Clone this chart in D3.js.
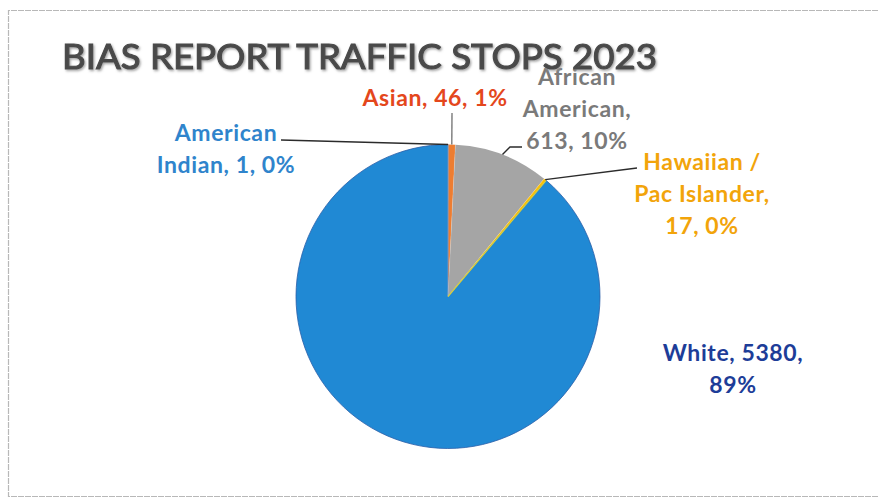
<!DOCTYPE html>
<html>
<head>
<meta charset="utf-8">
<script src="https://cdn.jsdelivr.net/npm/d3@7"></script>
<style>
  html, body { margin: 0; padding: 0; background: #fff; }
  svg { display: block; }
</style>
</head>
<body>
<svg id="chart" width="878" height="500"></svg>
<script>
// ---- data ----
const title = "BIAS REPORT TRAFFIC STOPS 2023";
const categories = ["American Indian", "Asian", "African American", "Hawaiian / Pac Islander", "White"];
const values = [1, 46, 613, 17, 5380];
const percentLabels = ["0%", "1%", "10%", "0%", "89%"];

// ---- styling / layout ----
const sliceColors = ["#5b9bd5", "#ed7d31", "#a5a5a5", "#ffc000", "#2089d4"];
const labelColors = ["#2f84cc", "#e4471c", "#7a7a7a", "#f2a40a", "#1d3d98"];
const labelLines = [
  ["American", "Indian, 1, 0%"],
  ["Asian, 46, 1%"],
  ["African", "American,", "613, 10%"],
  ["Hawaiian /", "Pac Islander,", "17, 0%"],
  ["White, 5380,", "89%"]
];
const labelPos = [[226, 141], [435, 106], [577, 85], [702, 170], [733, 361]];
const leaderEnds = [[[281, 140]], [[452, 113]], [[510, 147], [522, 147]], [[637, 168]], null];

const W = 878, H = 500;
const cx = 448, cy = 296.5, R = 152;
const lineH = 32;

const svg = d3.select("#chart");

// frame (scanned border)
svg.append("path")
  .attr("d", `M ${W} 10.5 H 8.5 V 496.5 H ${W}`)
  .attr("fill", "none")
  .attr("stroke", "#b8b8b8")
  .attr("stroke-width", 1.2)
  .attr("stroke-dasharray", "6 1");

const defs = svg.append("defs");
const f = defs.append("filter").attr("id", "shadow").attr("x", "-5%").attr("y", "-20%").attr("width", "110%").attr("height", "140%");
f.append("feDropShadow").attr("dx", 1.2).attr("dy", 1.5).attr("stdDeviation", 0.8).attr("flood-color", "#9a9a9a").attr("flood-opacity", 0.9);

// pie
const pie = d3.pie().sort(null).value(d => d)(values);
const arc = d3.arc().innerRadius(0).outerRadius(R);
const g = svg.append("g").attr("transform", `translate(${cx},${cy})`);

g.selectAll("path.slice")
  .data(pie)
  .join("path")
  .attr("class", "slice")
  .attr("d", arc)
  .attr("fill", (d, i) => sliceColors[i])
  .attr("stroke", (d, i) => i === 4 ? "#2a5ea8" : "none")
  .attr("stroke-width", 0.8);

g.selectAll("line.sep")
  .data(pie)
  .join("line")
  .attr("class", "sep")
  .attr("x1", 0).attr("y1", 0)
  .attr("x2", d => R * Math.sin(d.startAngle))
  .attr("y2", d => -R * Math.cos(d.startAngle))
  .attr("stroke", (d, i) => i === 4 ? "#d8d040" : "rgba(255,255,255,0.3)")
  .attr("stroke-width", (d, i) => i === 4 ? 1.2 : 0.6);

// leader lines
pie.forEach((d, i) => {
  const ends = leaderEnds[i];
  if (!ends) return;
  const a = (d.startAngle + d.endAngle) / 2;
  const p0 = [cx + R * Math.sin(a), cy - R * Math.cos(a)];
  svg.append("path")
    .attr("d", d3.line()([p0, ...ends]))
    .attr("fill", "none")
    .attr("stroke", i === 1 ? "#7a7a7a" : "#2b2b2b")
    .attr("stroke-width", 1.4);
});

// labels
labelLines.forEach((lines, i) => {
  const t = svg.append("text")
    .attr("text-anchor", "middle")
    .attr("font-family", "Lato, 'Open Sans', sans-serif")
    .attr("font-size", 23)
    .attr("font-weight", 700)
    .attr("letter-spacing", 0.6)
    .attr("fill", labelColors[i]);
  lines.forEach((ln, j) => {
    t.append("tspan")
      .attr("x", labelPos[i][0])
      .attr("y", labelPos[i][1] + j * lineH)
      .text(ln);
  });
});

// title (drawn on top, as in the reference)
svg.append("text")
  .attr("x", 62).attr("y", 69)
  .attr("font-family", "Lato, 'Open Sans', sans-serif")
  .attr("font-size", 35)
  .attr("font-weight", 400)
  .attr("fill", "#4a4a4a")
  .attr("stroke", "#4a4a4a")
  .attr("stroke-width", 1.1)
  .attr("textLength", 595)
  .attr("lengthAdjust", "spacingAndGlyphs")
  .attr("filter", "url(#shadow)")
  .text(title);
</script>
</body>
</html>
